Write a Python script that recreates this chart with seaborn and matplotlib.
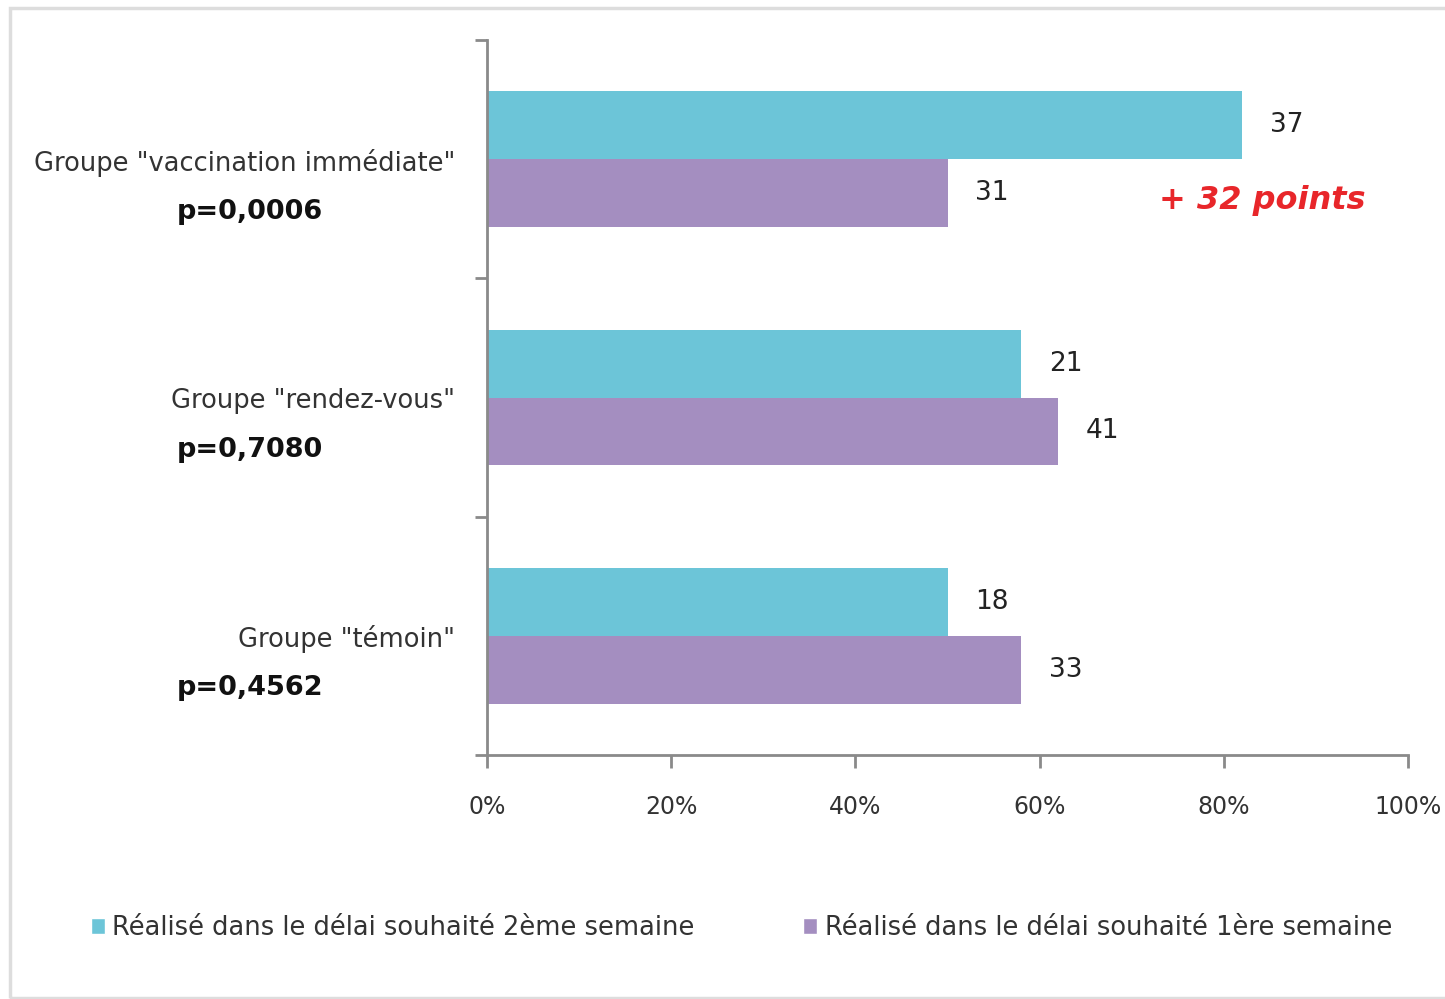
import matplotlib
matplotlib.use("Agg")
import matplotlib.pyplot as plt
import matplotlib.transforms as mtransforms
from matplotlib.patches import Rectangle, Patch
import pandas as pd
import seaborn as sns

# Groups, p-values and series
groups = ['Groupe "vaccination immédiate"', 'Groupe "rendez-vous"', 'Groupe "témoin"']
p_values = ["p=0,0006", "p=0,7080", "p=0,4562"]
series = ["Réalisé dans le délai souhaité 2ème semaine",
          "Réalisé dans le délai souhaité 1ère semaine"]

# Percentage achieved per group (bar lengths)
pct_week2 = [82, 58, 50]
pct_week1 = [50, 62, 58]
# Number of people shown next to each bar
n_week2 = [37, 21, 18]
n_week1 = [31, 41, 33]

xticks = [0, 20, 40, 60, 80, 100]
xtick_labels = ["0%", "20%", "40%", "60%", "80%", "100%"]
annotation = "+ 32 points"

cyan = "#6cc5d8"
purple = "#a48ec0"
axis_grey = "#8a8a8a"
text_dark = "#333333"

df = pd.DataFrame({
    "groupe": groups * 2,
    "pct": pct_week2 + pct_week1,
    "serie": [series[0]] * 3 + [series[1]] * 3,
})

sns.set_theme(style="white")
plt.rcParams["font.family"] = ["DejaVu Sans"]

fig = plt.figure(figsize=(14.45, 9.99), dpi=100)
ax = fig.add_axes([487 / 1445, 1 - 755 / 999, (1408 - 487) / 1445, (755 - 40) / 999])

sns.barplot(data=df, y="groupe", x="pct", hue="serie", order=groups,
            hue_order=series, palette=[cyan, purple], orient="h",
            width=0.57, saturation=1, linewidth=0, ax=ax, legend=False)

ax.set_xlim(0, 100)
ax.set_ylim(2.5, -0.5)
ax.set_xlabel("")
ax.set_ylabel("")

for side in ("top", "right"):
    ax.spines[side].set_visible(False)
for side in ("left", "bottom"):
    ax.spines[side].set_color(axis_grey)
    ax.spines[side].set_linewidth(2)

ax.set_xticks(xticks)
ax.set_xticklabels(xtick_labels, fontsize=17, color=text_dark)
ax.set_yticks([-0.5, 0.5, 1.5, 2.5])
ax.set_yticklabels([])
ax.tick_params(axis="x", bottom=True, direction="out", length=9, width=2,
               color=axis_grey, pad=20)
ax.tick_params(axis="y", left=True, direction="out", length=9, width=2,
               color=axis_grey)

# Count labels at the end of each bar
for container, counts in zip(ax.containers, [n_week2, n_week1]):
    ax.bar_label(container, labels=[str(c) for c in counts], padding=20,
                 fontsize=19, color="#222222")

# Group names and p-values to the left of the axis
trans = mtransforms.blended_transform_factory(fig.transFigure, ax.transData)
for i, (g, p) in enumerate(zip(groups, p_values)):
    ax.text(455 / 1445, i + 0.015, g, transform=trans, ha="right", va="center",
            fontsize=18.5, color=text_dark)
    ax.text(250 / 1445, i + 0.22, p, transform=trans, ha="center", va="center",
            fontsize=19.5, fontweight="bold", color="#111111")

ax.text(73, 0.175, annotation, ha="left", va="center", fontsize=23,
        fontweight="bold", fontstyle="italic", color="#e8262a")

handles = [Patch(facecolor=cyan), Patch(facecolor=purple)]
fig.legend(handles, series, loc="center", bbox_to_anchor=(0.513, 0.071), ncol=2,
           frameon=False, fontsize=18.5, handlelength=0.55, handleheight=0.55,
           handletextpad=0.3, columnspacing=4.2, labelcolor=text_dark)

# Light frame around the chart area
fig.patches.append(Rectangle((10 / 1445, 1 / 999), 1.2, 990 / 999,
                             transform=fig.transFigure, fill=False,
                             edgecolor="#dddddd", linewidth=2.5))

fig.savefig("out.png", dpi=100, facecolor="white")
